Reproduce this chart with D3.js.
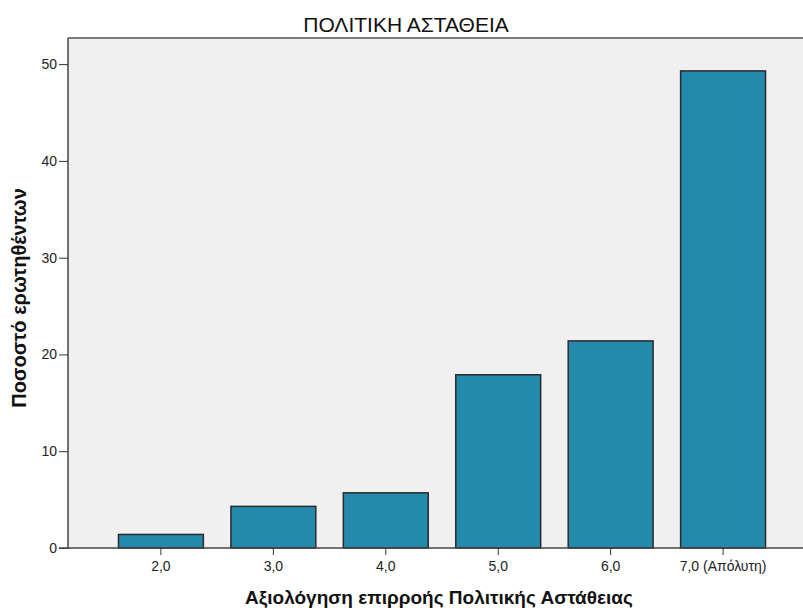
<!DOCTYPE html>
<html>
<head>
<meta charset="utf-8">
<script src="https://cdn.jsdelivr.net/npm/d3@7"></script>
<style>
  body { margin: 0; background: #fff; }
  text { font-family: Arial, "Liberation Sans", sans-serif; }
</style>
</head>
<body>
<div id="chart"></div>
<script>
// data
var categories = ['2,0', '3,0', '4,0', '5,0', '6,0', '7,0 (Απόλυτη)'];
var percents = [1.4, 4.3, 5.7, 17.9, 21.4, 49.3];
var yTicks = [0, 10, 20, 30, 40, 50];

var chart_width = 803;
var chart_height = 608;

// plot area edges (note: "top" is taken by window.top)
var plotLeft = 68, plotTop = 38, plotRight = 803, plotBottom = 548;

var svg = d3.select('#chart')
    .append('svg')
    .attr('width', chart_width)
    .attr('height', chart_height);

// plot background
svg.append('rect')
    .attr('x', plotLeft)
    .attr('y', plotTop)
    .attr('width', plotRight - plotLeft)
    .attr('height', plotBottom - plotTop)
    .attr('fill', '#f0f0f0');

// top border
svg.append('line')
    .attr('x1', plotLeft).attr('x2', plotRight)
    .attr('y1', plotTop).attr('y2', plotTop)
    .attr('stroke', '#7a7a7a')
    .attr('stroke-width', 2);

var x = d3.scaleBand()
    .domain(categories)
    .range([105, 779])
    .paddingInner(0.245)
    .paddingOuter(0.12);

var y = d3.scaleLinear()
    .domain([0, 52.7])
    .range([plotBottom, plotTop]);

svg.selectAll('rect.bar')
    .data(percents)
    .enter()
    .append('rect')
    .attr('class', 'bar')
    .attr('x', function(d, i) { return x(categories[i]); })
    .attr('y', function(d) { return y(d); })
    .attr('width', x.bandwidth())
    .attr('height', function(d) { return plotBottom - y(d); })
    .attr('fill', '#238aab')
    .attr('stroke', '#2a2a2a')
    .attr('stroke-width', 1.5);

// y axis
var yAxis = d3.axisLeft(y)
    .tickValues(yTicks)
    .tickSize(9)
    .tickSizeOuter(0)
    .tickPadding(2)
    .tickFormat(d3.format('d'));

var gy = svg.append('g')
    .attr('transform', 'translate(' + plotLeft + ',0)')
    .call(yAxis);
gy.select('.domain')
    .attr('d', 'M0,' + plotTop + 'V' + (plotBottom + 1))
    .attr('stroke', '#444')
    .attr('stroke-width', 1.5);
gy.selectAll('.tick line').attr('stroke', '#333');
gy.selectAll('.tick text').attr('fill', '#222').style('font-size', '14px');

// x axis
var xAxis = d3.axisBottom(x)
    .tickSize(7)
    .tickPadding(6)
    .tickSizeOuter(0);

var gx = svg.append('g')
    .attr('transform', 'translate(0,' + plotBottom + ')')
    .call(xAxis);
gx.select('.domain')
    .attr('d', 'M' + (plotLeft - 9) + ',0H' + plotRight)
    .attr('stroke', '#444')
    .attr('stroke-width', 1.5);
gx.selectAll('.tick line').attr('stroke', '#333');
gx.selectAll('.tick text').attr('fill', '#222').style('font-size', '14px');

// title
svg.append('text')
    .attr('x', 406)
    .attr('y', 32)
    .attr('text-anchor', 'middle')
    .style('font-size', '21px')
    .attr('fill', '#111')
    .text('ΠΟΛΙΤΙΚΗ ΑΣΤΑΘΕΙΑ');

// axis titles
svg.append('text')
    .attr('x', 439)
    .attr('y', 604)
    .attr('text-anchor', 'middle')
    .style('font-size', '19px')
    .style('font-weight', 'bold')
    .attr('fill', '#111')
    .text('Αξιολόγηση επιρροής Πολιτικής Αστάθειας');

svg.append('text')
    .attr('transform', 'translate(26,298) rotate(-90)')
    .attr('text-anchor', 'middle')
    .style('font-size', '20px')
    .style('font-weight', 'bold')
    .attr('fill', '#111')
    .text('Ποσοστό ερωτηθέντων');
</script>
</body>
</html>
